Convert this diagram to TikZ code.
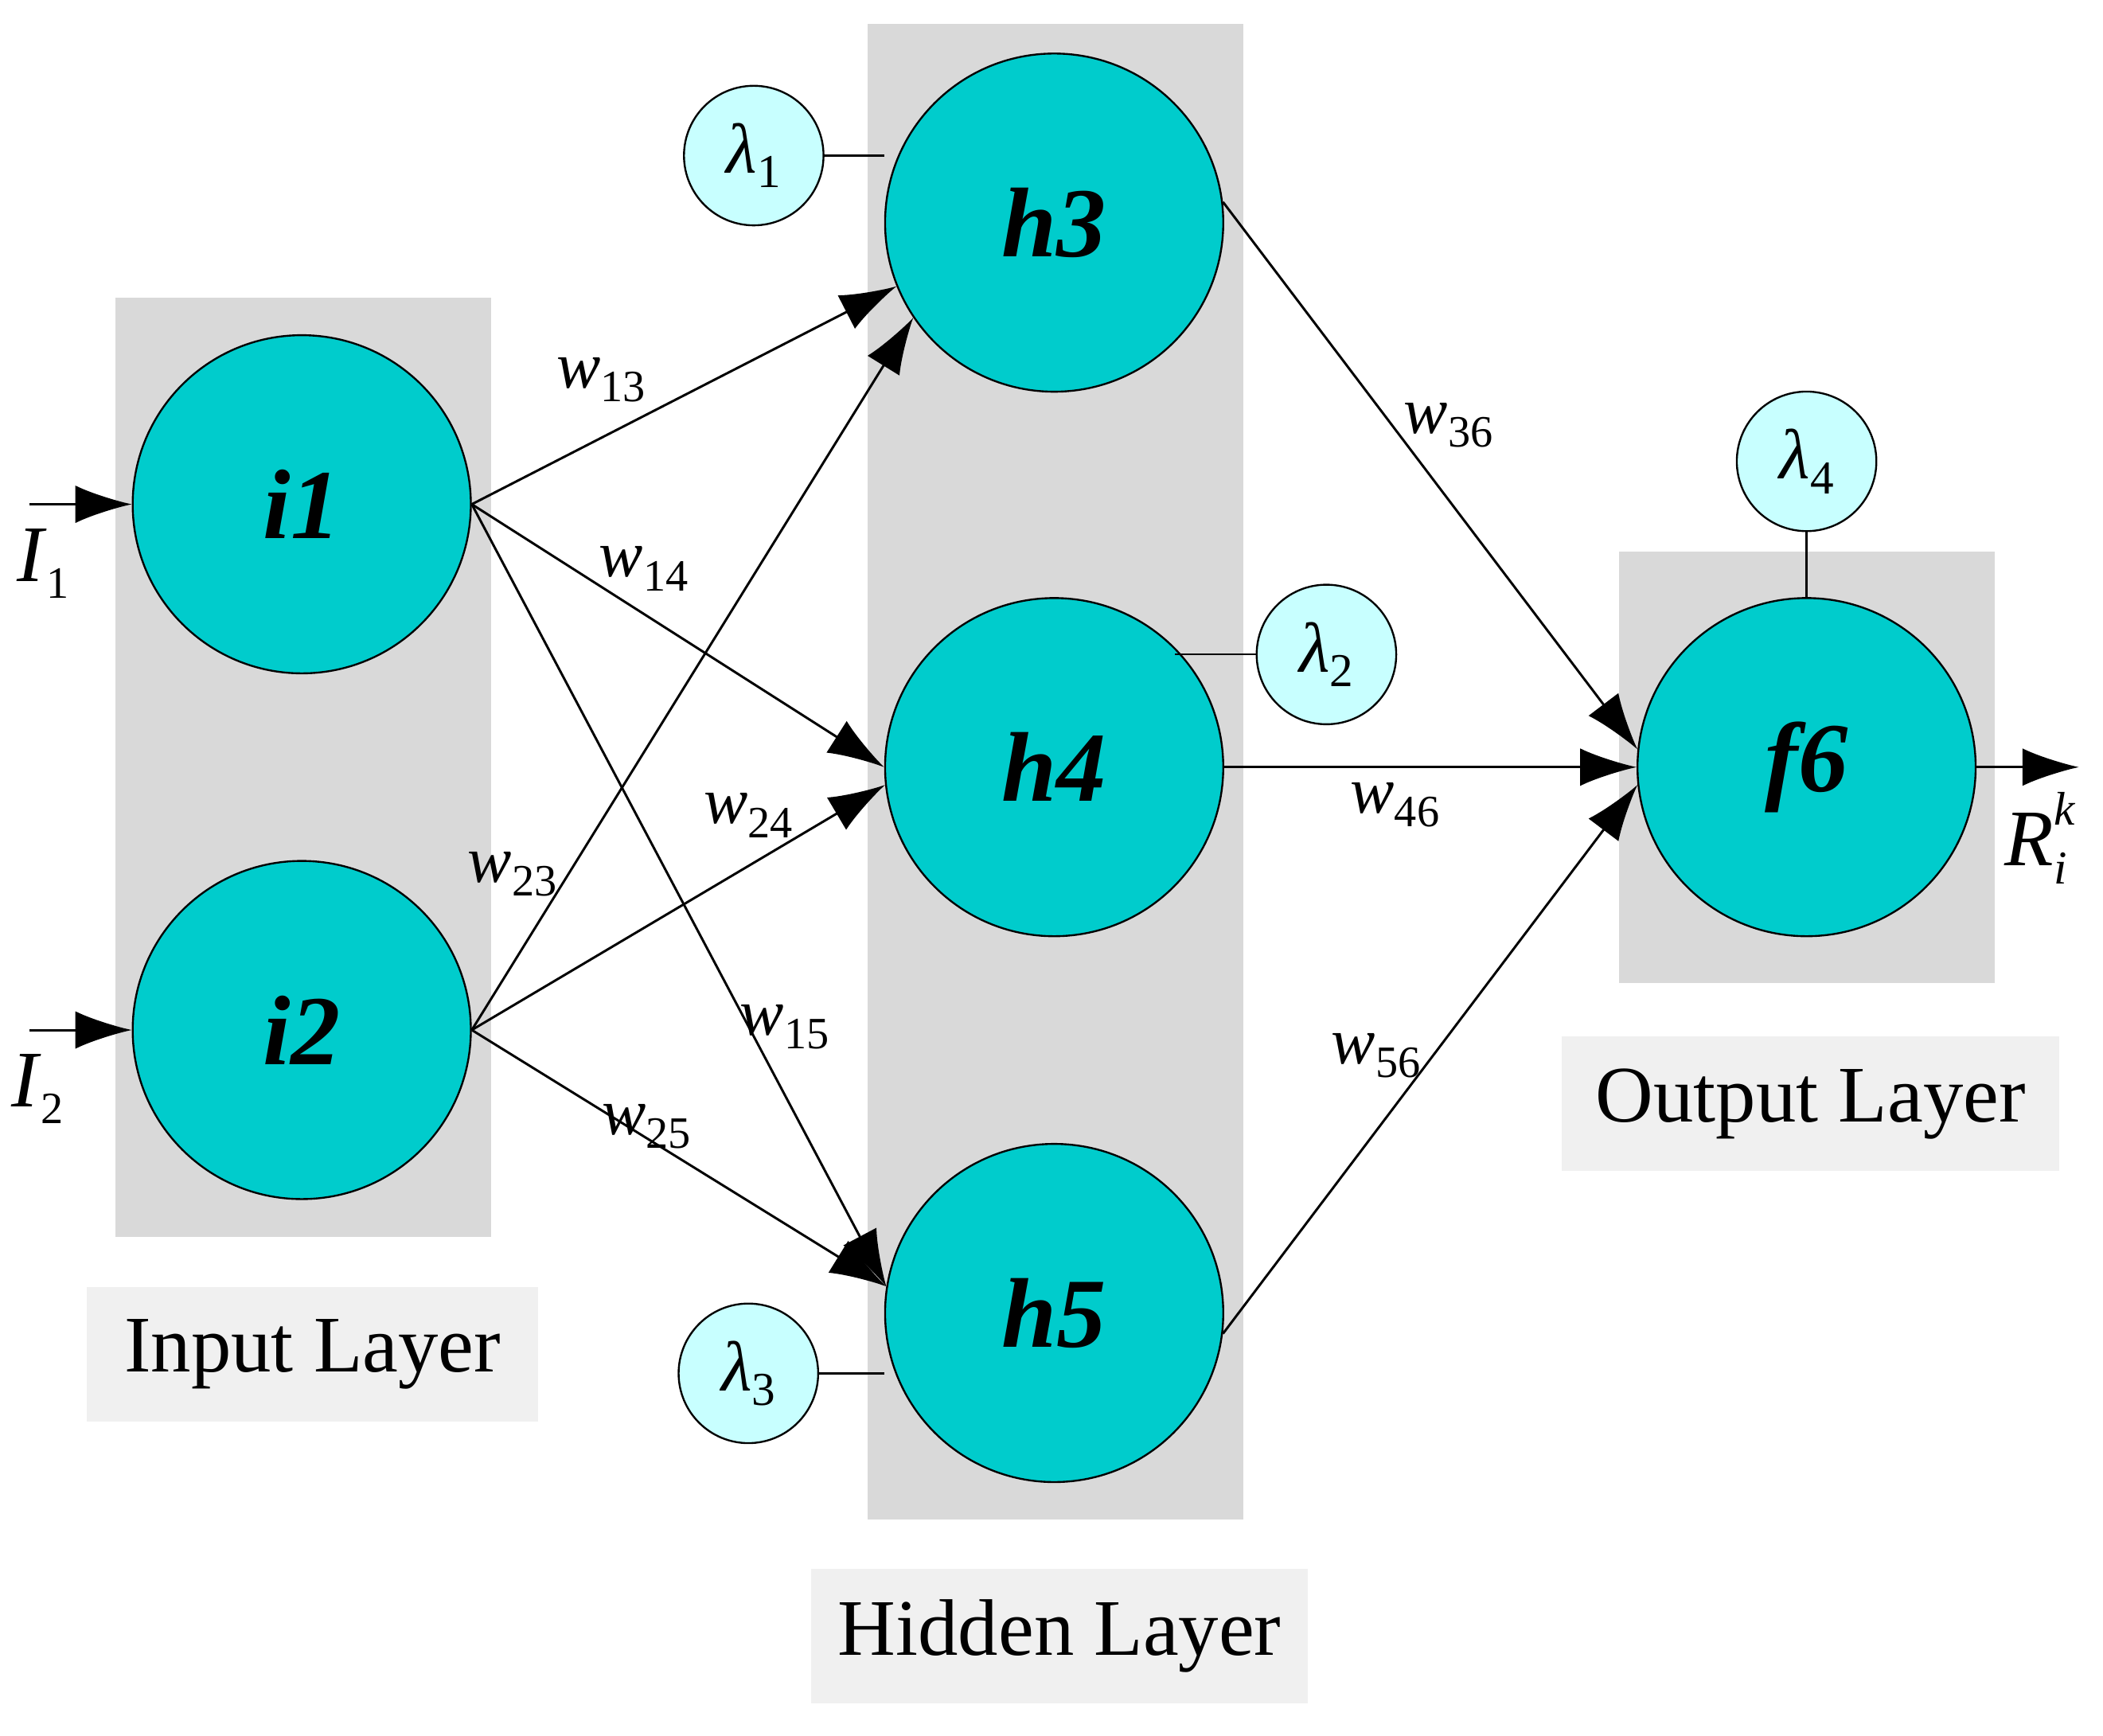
\documentclass[tikz,border=0pt]{standalone}
\usepackage{fontspec}
\setmainfont{Liberation Serif}
\usetikzlibrary{arrows.meta}
\newcommand{\wl}[2]{\textit{#1}\raisebox{-0.45ex}{\fontsize{9.5}{10}\selectfont #2}}
\begin{document}
\begin{tikzpicture}[x=0.01cm,y=-0.01cm,
  big/.style={circle,draw,minimum size=2.52cm,inner sep=0pt,font=\fontsize{21}{24}\selectfont\bfseries\itshape},
  lam/.style={circle,draw,minimum size=1.04cm,inner sep=0pt,font=\fontsize{15}{17}\selectfont},
  lay/.style={fill=gray!30},
  lbl/.style={fill=gray!12,font=\fontsize{17}{20}\selectfont},
  w/.style={font=\fontsize{14}{16}\selectfont},
  e/.style={-{Latex[length=0.42cm,width=0.28cm]},line width=0.5pt}]
\useasboundingbox (0,0) rectangle (1568,1294);
\definecolor{tealc}{RGB}{0,204,204}
\definecolor{lc}{RGB}{200,255,255}
\fill[lay] (86,222) rectangle (366,922);
\fill[lay] (647,18) rectangle (927,1133);
\fill[lay] (1207,411) rectangle (1487,733);
\node[lbl,minimum width=3.36cm,minimum height=1cm] (L1) at (233,1010) {Input Layer};
\node[lbl,minimum width=3.7cm,minimum height=1cm] (L2) at (790,1220) {Hidden Layer};
\node[lbl,minimum width=3.71cm,minimum height=1cm] (L3) at (1350,823) {Output Layer};
\tikzset{big/.append style={fill=tealc},lam/.append style={fill=lc}}
\node[big] (i1) at (225,376) {i1};
\node[big] (i2) at (225,768) {i2};
\node[big] (h3) at (786,166) {h3};
\node[big] (h4) at (786,572) {h4};
\node[big] (h5) at (786,979) {h5};
\node[big] (f6) at (1347,572) {f6};
\node[lam] (l1) at (562,116) {\textit{λ}\raisebox{-0.45ex}{\fontsize{10}{10}\selectfont 1}};
\node[lam] (l2) at (989,488) {\textit{λ}\raisebox{-0.45ex}{\fontsize{10}{10}\selectfont 2}};
\node[lam] (l3) at (558,1024) {\textit{λ}\raisebox{-0.45ex}{\fontsize{10}{10}\selectfont 3}};
\node[lam] (l4) at (1347,344) {\textit{λ}\raisebox{-0.45ex}{\fontsize{10}{10}\selectfont 4}};
\draw (l1.east) -- (l1.east -| h3.west);
\draw (l3.east) -- (l3.east -| h5.west);
\draw (l2.west) -- ++(-60,0);
\draw (l4) -- (f6);
\coordinate (s1) at (22,376);
\coordinate (s2) at (22,768);
\coordinate (o) at (1550,572);
\draw[e] (s1) -- (i1);
\draw[e] (s2) -- (i2);
\draw[e] (f6) -- (o);
\node[font=\fontsize{17}{18}\selectfont] (I1) at (32,420) {\wl{I}{1}};
\node[font=\fontsize{17}{18}\selectfont] (I2) at (28,812) {\wl{I}{2}};
\node[font=\fontsize{17}{18}\selectfont] (R) at (1518,625) {\textit{R}\makebox[0pt][l]{\raisebox{1.1ex}{\fontsize{10}{10}\selectfont\textit{k}}}\raisebox{-0.5ex}{\fontsize{10}{10}\selectfont\textit{i}}};
\draw[e] (i1.east) -- (h3.202);
\draw[e] (i1.east) -- (h4.180);
\draw[e] (i1.east) -- (h5.171);
\draw[e] (i2.east) -- (h3.214);
\draw[e] (i2.east) -- (h4.186);
\draw[e] (i2.east) -- (h5.171);
\draw[e] (h3.7) -- (f6.174);
\draw[e] (h4.east) -- (f6.180);
\draw[e] (h5.353) -- (f6.186);
\node[w] (w13) at (448,283) {\wl{w}{13}};
\node[w] (w14) at (480,424) {\wl{w}{14}};
\node[w] (w15) at (585,766) {\wl{w}{15}};
\node[w] (w23) at (382,652) {\wl{w}{23}};
\node[w] (w24) at (558,608) {\wl{w}{24}};
\node[w] (w25) at (482,840) {\wl{w}{25}};
\node[w] (w36) at (1080,317) {\wl{w}{36}};
\node[w] (w46) at (1040,600) {\wl{w}{46}};
\node[w] (w56) at (1026,787) {\wl{w}{56}};
\end{tikzpicture}
\end{document}
